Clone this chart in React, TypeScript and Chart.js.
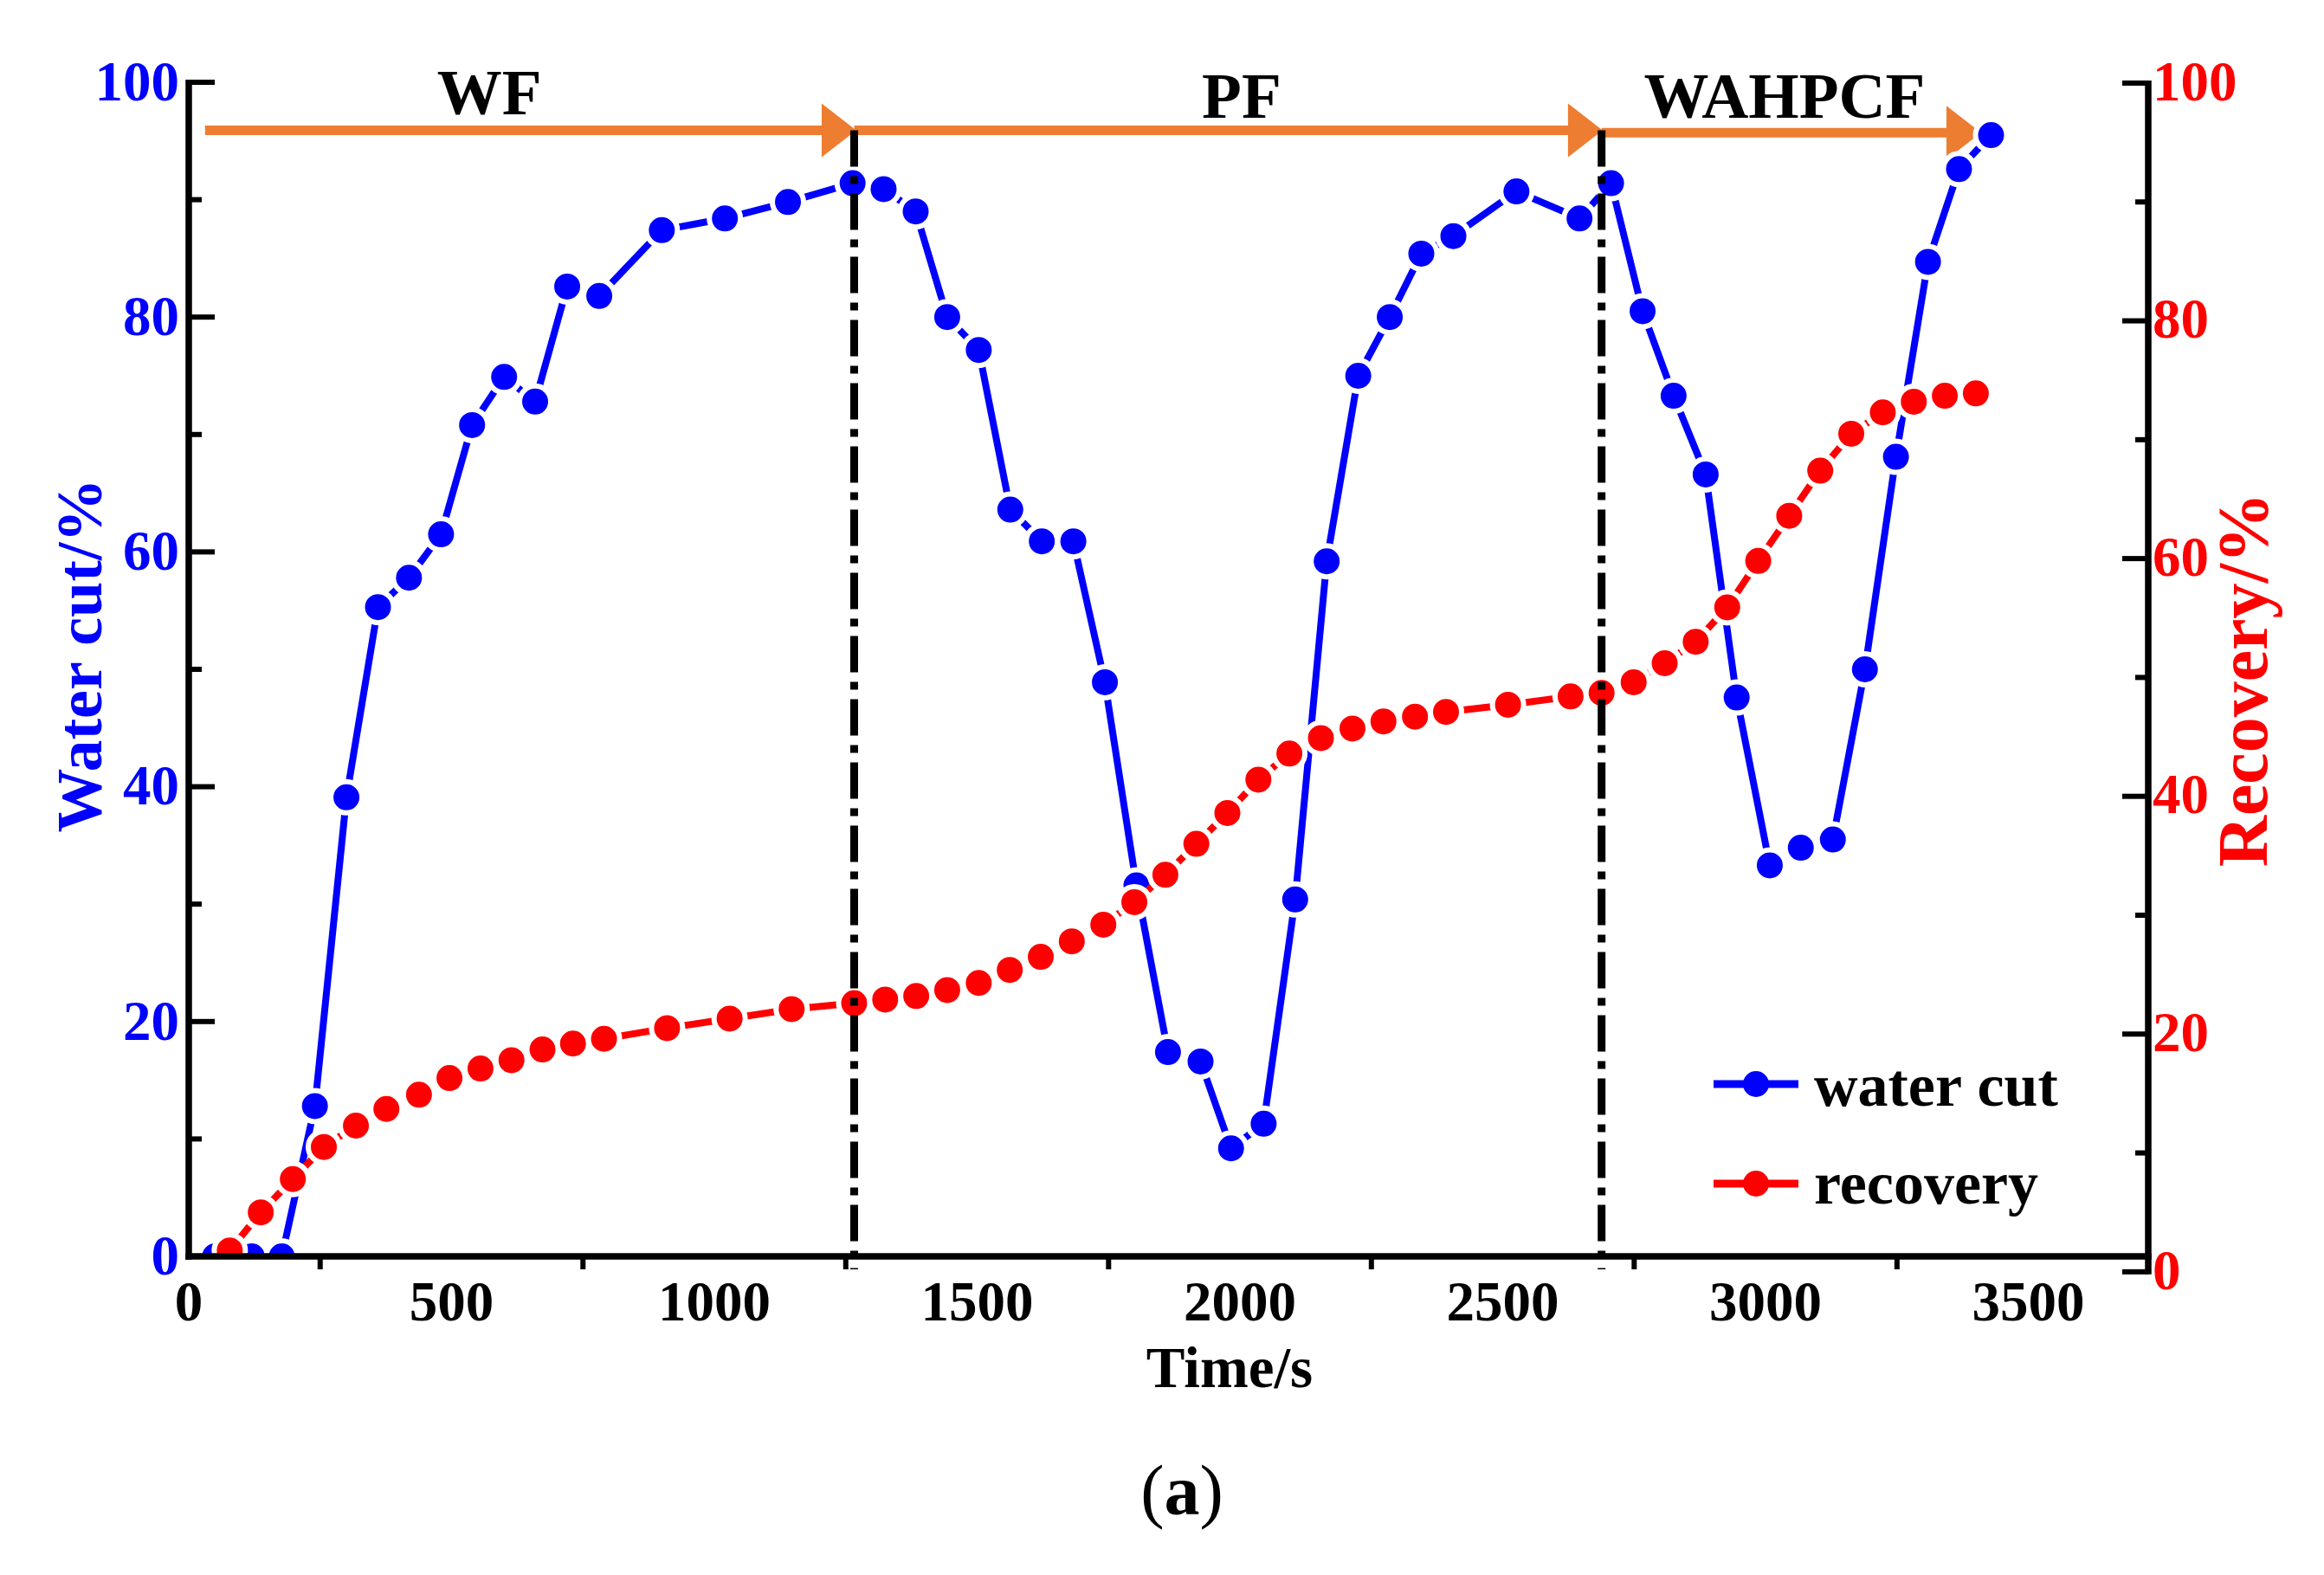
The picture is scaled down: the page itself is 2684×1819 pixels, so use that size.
import { useEffect, useRef } from "react";
import { Chart, registerables } from "chart.js";

Chart.register(...registerables);

const BLUE = "#0000FF";
const RED = "#FF0000";
const ORANGE = "#ED7D31";
const SERIF = '"Liberation Serif", "Times New Roman", serif';

// water cut (left axis)
const waterTime = [
  50, 120, 177, 240, 300, 360, 419, 480, 539, 600, 659, 720, 781, 900, 1020,
  1140, 1263, 1322, 1383, 1443, 1503, 1563, 1623, 1683, 1743, 1803, 1863, 1925,
  1983, 2045, 2105, 2165, 2225, 2285, 2345, 2406, 2526, 2646, 2706, 2766, 2825,
  2886, 2945, 3008, 3067, 3128, 3189, 3248, 3309, 3368, 3429,
];
const waterCut = [
  0, 0, 0, 12.8, 39.1, 55.3, 57.8, 61.5, 70.8, 74.9, 72.8, 82.6, 81.8, 87.4,
  88.4, 89.8, 91.4, 90.9, 89.0, 80.0, 77.2, 63.6, 60.9, 60.9, 48.9, 31.6, 17.4,
  16.6, 9.2, 11.3, 30.4, 59.2, 75.0, 80.0, 85.4, 86.9, 90.7, 88.4, 91.4, 80.5,
  73.3, 66.6, 47.6, 33.3, 34.8, 35.5, 50.0, 68.1, 84.7, 92.6, 95.5,
];

// recovery (right axis)
const recoveryTime = [
  78, 137, 198, 257, 318, 376, 438, 496, 555, 614, 673, 731, 790, 910, 1029,
  1147, 1266, 1325, 1384, 1443, 1503, 1562, 1621, 1680, 1740, 1799, 1858, 1917,
  1976, 2035, 2094, 2154, 2214, 2273, 2333, 2392, 2510, 2629, 2688, 2749, 2808,
  2867, 2927, 2986, 3045, 3104, 3163, 3223, 3282, 3341, 3400,
];
const recovery = [
  1.8, 5.0, 7.8, 10.5, 12.3, 13.7, 14.9, 16.3, 17.1, 17.8, 18.7, 19.2, 19.6,
  20.5, 21.3, 22.1, 22.6, 22.9, 23.2, 23.7, 24.3, 25.4, 26.5, 27.8, 29.2, 31.1,
  33.4, 36.0, 38.6, 41.4, 43.6, 44.9, 45.7, 46.3, 46.7, 47.1, 47.7, 48.4, 48.7,
  49.6, 51.2, 53.0, 55.9, 59.8, 63.6, 67.4, 70.5, 72.3, 73.2, 73.7, 73.9,
];

// flooding stages
const phaseLabels = ["WF", "PF", "WAHPCF"];
const phaseLabelTime = [572, 2003, 3036];
const phaseLabelLevel = [97.3, 97.0, 97.0];
const arrowStart = [31, 1266, 2688];
const arrowEnd = [1270, 2690, 3410];
const arrowLevel = [95.9, 95.9, 95.7];
const phaseSwitch = [1266, 2688];

const xTicks = [0, 500, 1000, 1500, 2000, 2500, 3000, 3500];
const xMinorTicks = [250, 750, 1250, 1750, 2250, 2750, 3250];
const leftTicks = [0, 20, 40, 60, 80, 100];
const rightTicks = [0, 20, 40, 60, 80, 100];

const seriesNames = ["water cut", "recovery"];

const line = (ctx: CanvasRenderingContext2D, x0: number, y0: number, x1: number, y1: number) => {
  ctx.beginPath();
  ctx.moveTo(x0, y0);
  ctx.lineTo(x1, y1);
  ctx.stroke();
};

const decor = {
  id: "decor",
  beforeDatasetsDraw(chart: any) {
    const { ctx, scales } = chart;
    const x = scales.x;
    const y = scales.y;
    ctx.save();
    // stage arrows
    ctx.strokeStyle = ORANGE;
    ctx.fillStyle = ORANGE;
    ctx.lineWidth = 11;
    ctx.lineCap = "butt";
    arrowStart.forEach((t, i) => {
      const x0 = x.getPixelForValue(t);
      const x1 = x.getPixelForValue(arrowEnd[i]);
      const py = y.getPixelForValue(arrowLevel[i]);
      line(ctx, x0, py, x1 - 38, py);
      ctx.beginPath();
      ctx.moveTo(x1, py);
      ctx.lineTo(x1 - 40, py - 31);
      ctx.lineTo(x1 - 40, py + 31);
      ctx.closePath();
      ctx.fill();
    });
    // stage names
    ctx.fillStyle = "#000";
    ctx.font = `bold 75px ${SERIF}`;
    ctx.textAlign = "center";
    ctx.textBaseline = "alphabetic";
    phaseLabels.forEach((s, i) => {
      ctx.fillText(s, x.getPixelForValue(phaseLabelTime[i]), y.getPixelForValue(phaseLabelLevel[i]));
    });
    ctx.restore();
  },
  afterDatasetsDraw(chart: any) {
    const { ctx, scales } = chart;
    const x = scales.x;
    const y = scales.y;
    ctx.save();
    ctx.strokeStyle = "#000";
    ctx.lineWidth = 9;
    ctx.setLineDash([42, 11, 9, 11]);
    phaseSwitch.forEach((t) => {
      const px = x.getPixelForValue(t);
      line(ctx, px, y.getPixelForValue(arrowLevel[0]), px, y.getPixelForValue(0) + 15);
    });
    ctx.restore();
  },
  afterDraw(chart: any) {
    const { ctx, scales, chartArea } = chart;
    const x = scales.x;
    const y = scales.y;
    const y1 = scales.y1;
    const L = chartArea.left;
    const R = chartArea.right;
    const B = chartArea.bottom;
    ctx.save();
    ctx.strokeStyle = "#000";
    ctx.lineCap = "butt";

    // axis lines
    ctx.lineWidth = 7.5;
    line(ctx, L, y.getPixelForValue(100) - 3, L, B + 3.75);
    line(ctx, L - 3.75, B, R + 3.75, B);
    line(ctx, R, y1.getPixelForValue(100) - 3, R, y1.getPixelForValue(0) + 3);

    // tick marks
    ctx.lineWidth = 6;
    for (let v = 0; v <= 100; v += 10) {
      const len = v % 20 === 0 ? 30 : 15;
      const pl = y.getPixelForValue(v);
      line(ctx, L, pl, L + len, pl);
      const pr = y1.getPixelForValue(v);
      line(ctx, R, pr, R - len, pr);
    }
    xMinorTicks.forEach((t) => {
      const px = x.getPixelForValue(t);
      line(ctx, px, B, px, B + 15);
    });

    // right tick labels
    ctx.fillStyle = RED;
    ctx.font = `bold 65px ${SERIF}`;
    ctx.textAlign = "left";
    ctx.textBaseline = "middle";
    rightTicks.forEach((v) => {
      ctx.fillText(String(v), R + 5, y1.getPixelForValue(v) + 3);
    });

    // axis titles
    ctx.textBaseline = "alphabetic";
    ctx.textAlign = "center";
    ctx.save();
    ctx.translate(117, 757);
    ctx.rotate(-Math.PI / 2);
    ctx.fillStyle = BLUE;
    ctx.font = `bold 74px ${SERIF}`;
    ctx.fillText("Water cut/%", 0, 0);
    ctx.restore();

    ctx.save();
    ctx.translate(2618, 785);
    ctx.rotate(-Math.PI / 2);
    ctx.fillStyle = RED;
    ctx.font = `bold 82px ${SERIF}`;
    ctx.fillText("Recovery/%", 0, 0);
    ctx.restore();

    ctx.fillStyle = "#000";
    ctx.font = `bold 67px ${SERIF}`;
    ctx.fillText("Time/s", 1420, 1602);

    // legend
    const colors = [BLUE, RED];
    const rowY = [B - 199, B - 84];
    const baseY = [B - 174, B - 61];
    seriesNames.forEach((name, i) => {
      ctx.strokeStyle = colors[i];
      ctx.fillStyle = colors[i];
      ctx.lineWidth = 9;
      line(ctx, R - 502, rowY[i], R - 404, rowY[i]);
      ctx.beginPath();
      ctx.arc(R - 453, rowY[i], 15, 0, Math.PI * 2);
      ctx.fill();
      ctx.fillStyle = "#000";
      ctx.textAlign = "left";
      ctx.font = `bold 70px ${SERIF}`;
      ctx.fillText(name, R - 386, baseY[i]);
    });

    // panel tag
    const parts = [
      { s: "(", f: `82px ${SERIF}` },
      { s: "a", f: `bold 82px ${SERIF}` },
      { s: ")", f: `82px ${SERIF}` },
    ];
    let total = 0;
    parts.forEach((p) => {
      ctx.font = p.f;
      total += ctx.measureText(p.s).width;
    });
    let cx = 1365 - total / 2;
    ctx.textAlign = "left";
    parts.forEach((p) => {
      ctx.font = p.f;
      ctx.fillText(p.s, cx, 1749);
      cx += ctx.measureText(p.s).width;
    });
    ctx.restore();
  },
};

const WaterCutChart = () => {
  const chartRef = useRef<HTMLCanvasElement>(null);

  useEffect(() => {
    if (!chartRef.current) return;

    const chart = new Chart(chartRef.current, {
      type: "line",
      data: {
        datasets: [
          {
            label: seriesNames[0],
            data: waterTime.map((t, i) => ({ x: t, y: waterCut[i] })),
            yAxisID: "y",
            borderColor: BLUE,
            backgroundColor: BLUE,
            borderWidth: 8,
            pointRadius: 18,
            pointBorderWidth: 6,
            pointBorderColor: "#FFFFFF",
            pointBackgroundColor: BLUE,
            tension: 0,
            order: 1,
          },
          {
            label: seriesNames[1],
            data: recoveryTime.map((t, i) => ({ x: t, y: recovery[i] })),
            yAxisID: "y1",
            borderColor: RED,
            backgroundColor: RED,
            borderWidth: 8,
            pointRadius: 18,
            pointBorderWidth: 6,
            pointBorderColor: "#FFFFFF",
            pointBackgroundColor: RED,
            tension: 0,
            order: 0,
          },
        ],
      },
      options: {
        animation: false,
        responsive: true,
        maintainAspectRatio: false,
        events: [],
        layout: { padding: { top: 95, left: 0, right: 0, bottom: 0 } },
        plugins: {
          legend: { display: false },
          tooltip: { enabled: false },
        },
        scales: {
          x: {
            type: "linear",
            position: "bottom",
            min: 0,
            max: 3728,
            grid: { display: false, drawTicks: false },
            border: { display: false },
            afterBuildTicks: (s: any) => {
              s.ticks = xTicks.map((v) => ({ value: v }));
            },
            ticks: {
              autoSkip: false,
              maxRotation: 0,
              padding: 18,
              color: "#000",
              font: { family: SERIF, size: 65, weight: "bold" },
              callback: (v: any) => String(v),
            },
            afterFit: (s: any) => {
              s.height = 368;
            },
          },
          y: {
            position: "left",
            min: 0,
            max: 100,
            grid: { display: false, drawTicks: false },
            border: { display: false },
            afterBuildTicks: (s: any) => {
              s.ticks = leftTicks.map((v) => ({ value: v }));
            },
            ticks: {
              padding: 11,
              labelOffset: 4,
              color: BLUE,
              font: { family: SERIF, size: 65, weight: "bold" },
              callback: (v: any) => String(v),
            },
            afterFit: (s: any) => {
              s.width = 218;
            },
          },
          y1: {
            position: "right",
            min: 1.3,
            max: 100.07,
            grid: { display: false, drawTicks: false },
            border: { display: false },
            ticks: { display: false },
            afterFit: (s: any) => {
              s.width = 203;
            },
          },
        },
      },
      plugins: [decor],
    } as any);

    return () => {
      chart.destroy();
    };
  }, []);

  return (
    <div
      style={{
        position: "absolute",
        left: 0,
        top: 0,
        width: "2684px",
        height: "1819px",
        background: "#fff",
      }}
    >
      <canvas ref={chartRef} />
    </div>
  );
};

export default function App() {
  return <WaterCutChart />;
}
